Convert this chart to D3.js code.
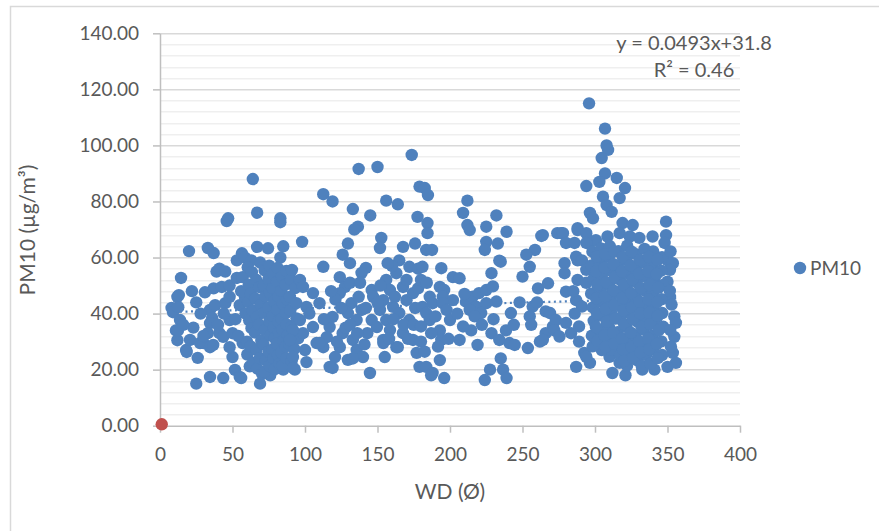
<!DOCTYPE html>
<html>
<head>
<meta charset="utf-8">
<script src="https://cdn.jsdelivr.net/npm/d3@7"></script>
<style>
  body { margin: 0; background: #fff; }
  text { font-family: Lato, "Open Sans", sans-serif; fill: #595959; }
</style>
</head>
<body>
<script>
// Data: [WD, PM10] pairs, grouped by wind direction band
// =================================
var band0to60 = [
  [8,42],[12,46],[14.5,52.7],[11,34],[12,30.5],[18,27],[20,62.3],[25,15],[9,40.5],[12.6,42.3],
  [13,46.6],[13.8,37.7],[12.4,34],[23,35],[25,44],[20.7,30.6],[18.4,26.3],[26,24.2],[27.6,29.5],[31,47.6],
  [33,63.4],[37,61.6],[37,49],[39,55],[42.6,49.5],[34.5,41.3],[38,43],[36,38.4],[34.5,36.6],[33,33],
  [30,29.5],[34.5,28],[36.7,28.8],[41,33],[43.6,31.7],[45,43.7],[48,46],[47,74],[46,73],[48,50],
  [48,37.7],[53,52.7],[53,59],[56.5,61.5],[58.6,60],[55,43],[58.6,45.9],[57,29.5],[50,24.5],[51.7,19.9],
  [55,17.4],[56,17],[34.5,17.4],[43.6,17],[30,32],[40,36],[44,40],[50,33],[52,38],[56,48],
  [57,53],[41,56],[28,40],[22,48],[16,36],[48,28],[54,32],[59,40],[45,55]
];

var band60to90 = [
  [64,88],[67,76],[83,74],[83,72.6],[67,63.8],[74.5,63.3],[85,64],[63,59],[83,60],[69,15],[76,18],[85,20],[60,30],
  [60.5,56.5],[61.2,50.3],[60.8,44.1],[61.5,37.6],[60.2,25.4],[61.9,21.2],
  [63.4,54.8],[62.7,47.2],[63.9,41],[63.1,34.8],[62.5,28.3],[64.2,22.5],
  [66.3,52.1],[65.8,45.3],[66.9,38.8],[65.5,33.2],[66.6,27.1],[67.2,20.4],
  [69.1,58.2],[68.7,49.4],[69.6,43.2],[68.3,36.1],[69.9,30.3],[68.9,24.1],[70.4,18.5],
  [72.2,55.4],[71.6,50.1],[72.8,46.2],[71.9,40.3],[72.5,34.2],[71.3,29.1],[73,23.3],[72.1,19.2],
  [75.3,57.1],[74.8,52.3],[75.9,47.4],[74.6,42.1],[75.5,37.3],[76.1,32.2],[74.9,26.4],[75.7,21.3],
  [78.2,54.2],[77.6,49.1],[78.8,44.3],[77.9,39.2],[78.5,35.1],[79.1,31.3],[77.7,27.2],[78.4,24.1],[79.3,20.2],
  [81.1,56.3],[80.7,51.2],[81.8,46.1],[80.9,41.4],[81.5,37.2],[82.1,33.1],[80.6,29.3],[81.3,25.2],[82.4,22.1],
  [84.2,53.1],[83.6,48.2],[84.8,43.4],[83.9,38.1],[84.5,34.3],[85.1,30.2],[83.7,26.1],[84.4,21.4],
  [87.1,55.2],[86.6,50.3],[87.7,45.1],[86.9,40.2],[87.4,36.1],[88.1,32.3],[86.7,28.2],[87.3,24.1],
  [90.3,52.1],[89.9,41.2],[90.5,35.3],[89.2,29.1],[90.8,23.2],
  [93.2,49.1],[94.1,38.3],[92.6,27.4],[95.3,31.2]
];

var band90to180 = [
  [91,55.6],[96.5,52],[98.6,49.5],[105.5,47.3],[89.6,46],[94,43.7],[101,42.4],[110,43.7],[103,40],[96.5,37.7],
  [105.5,35.2],[98.6,33],[91.7,34.1],[89.6,30.6],[108,29.5],[112.6,28],[100,27],[91.7,24.5],[101,22.7],[93,20],
  [92,20.6],[119,20.6],[98,65.6],[112.6,82.6],[119,80],[133,77.3],[145,75],[137,91.6],[150,92.3],[173.6,96.6],
  [156,80.3],[164,79],[136.5,71],[134,70],[129.6,65],[126,61],[131,58],[152.6,67],[151.7,63.4],[167.6,63.8],
  [175.9,65],[177.6,74.5],[112.6,56.7],[142,56.3],[139,54.5],[124,53],[127.6,49.5],[131,51],[165,59],[172,56.7],
  [124,47.3],[132,43.7],[139,41.3],[129.6,40.2],[135.6,37.7],[119,38.8],[117,35.2],[126,33],[115,31.6],[133,30.6],
  [124,28],[135.6,27],[120.7,24.5],[129.6,23.5],[140,24.5],[117,21],[144.8,18.8],[146,37.7],[143,33],[146,48.4],
  [147,46],[156,52],[163,54.4],[158.6,48.4],[167.6,49.5],[154,44.8],[160.7,42.4],[170,44.8],[174.5,47.3],[165,40.2],
  [156,37.7],[172,37.7],[158.6,34.1],[167.6,33],[154,30.6],[163,28],[155,24.5],[174.5,30.6],[177,26],[179,21],
  [149.6,35.2],[151.7,41.3],[164,28],[154,29.5],[110,29.5],[133,24],[179,85.3],
  [160,57],[170,52],[178,49],[162,46],[176,42],[168,36],[152,50],[158,31],[171,31],[175,36],
  [161,38],[150,44],[178,56],[157,58],[121,45],[128,35],[137,46],[142,42],[136,33],[122,30],
  [141,29],[131,36],[125,42],[113,38],[118,48],[138,51]
];

var band180to280 = [
  [182.6,84.8],[184.8,82.3],[212,80.3],[209,75.9],[212,71.6],[213.6,69.8],[232,75],[225,71],[225,65.6],[224,62.7],
  [233,65],[239,69.2],[234,58.9],[264,68],[258.6,62.7],[252.6,61],[255,56.7],[250,53.2],[274,68.7],[260.7,49],
  [267.6,50.8],[184.5,72.3],[184.5,68.7],[183.6,62.7],[187.6,62.7],[181,56.7],[180,52],[184,51],[194,56.2],[202,53],
  [206.6,52.6],[228.6,54.4],[193,49.5],[196,48.4],[195,46],[186,46],[188,43.7],[181,42.4],[202,44.8],[211,44.3],
  [215.6,46],[220,47.3],[225,48.4],[229.6,49.7],[232,44.3],[218,42.5],[225,43.7],[213.6,41.3],[221.5,40.2],[217,39],
  [195,43.7],[197.6,41.3],[200,37.7],[183.6,40.2],[186,37.7],[242,40.2],[257,42.5],[255,39],[256,36],[266,40.8],
  [180,35.4],[180,30],[182.6,26.4],[183.6,21],[188,18.8],[193,34],[194,30.6],[191.7,28.2],[193,23.4],[196,17],
  [206.6,30.6],[214.6,34],[219,28.8],[228.6,33],[234,30.6],[238.6,34],[241,29.5],[244.6,28.8],[235,24],[236.6,20],
  [239,17],[224,16.3],[227.6,20],[253.7,27.7],[262,30],[266,33],[271,35.4],[269,40.2],[273,37.7],[209,35.4],
  [187,18],[235,58.5],[263,67.7],[264,30.6],[272,34],[275.5,31.8],[187,33],[199,31],[205,40],[230,38],
  [222,36],[210,47],[190,39],[248,44],[244,36],[260,44],[276.6,68.7]
];

var band280to360 = [
  [295.9,115],[306.9,106],[308,100],[309,98.4],[304.6,95.5],[294,85.5],[306.9,90],[303,87],[315,88.4],[320.7,84.8],
  [317,81.2],[305.5,81.7],[308,78.7],[311.5,76.3],[296.5,75.9],[298.6,74],[349,72.8],[288,70.5],[277.9,68.7],[280,65.2],
  [285.9,65.2],[319,72.3],[326,71.6],[317,68.7],[324,67.5],[330.6,67],[339.7,67.5],[349,68],[348,65.2],[296.5,65.6],
  [300.6,66.2],[308.6,67.5],[350,59],[353.7,58],[351.7,55.6],[279,58],[279,54.4],[288,59],[280,47.8],[350,51.4],
  [351.7,46],[354.7,39],[355.8,36.7],[354.7,31.7],[353.7,26],[355.8,22.4],[350,21],[341,20],[287,21],[296.5,22.4],
  [292.6,26],[312,18.8],[321,18],[332.6,20],[317,22.4],[326,24.6],[310,24.6],[304.6,27],[288,69.8],[294,68.7],
  [294,65.2],[287,60.3],[291,59],[294,55.6],[288,52],[294,51],[287,44.8],[291,42.5],[280,36.7],[283.5,33],
  [289,35.4],[294,24.6],[286,40],[289,30],[285,48],
  [298.2,62.1],[297.6,57.2],[298.9,52.3],[297.3,47.1],[298.5,42.2],[299.1,37.4],[297.8,32.1],[298.4,28.3],
  [304.1,63.2],[303.5,58.1],[304.7,53.4],[303.8,48.2],[304.4,44.1],[305.1,39.3],[303.6,34.2],[304.3,30.1],
  [310.2,64.1],[309.6,60.2],[310.8,55.3],[309.9,50.1],[310.5,45.2],[311.1,40.4],[309.7,35.1],[310.4,31.2],[311.3,27.1],
  [316.1,62.3],[315.7,57.1],[316.8,52.2],[315.9,47.3],[316.5,43.1],[317.2,38.2],[315.6,33.4],[316.4,29.1],[317.3,25.2],
  [322.2,64.2],[321.6,59.1],[322.8,54.3],[321.9,49.2],[322.5,44.1],[323.1,40.3],[321.7,35.2],[322.4,30.1],[323.3,26.2],[322.1,21.4],
  [328.1,61.2],[327.6,56.3],[328.7,51.1],[327.9,46.2],[328.4,42.3],[329.1,37.1],[327.7,32.2],[328.3,28.1],[329.2,23.3],
  [334.2,63.1],[333.6,58.2],[334.8,53.1],[333.9,48.3],[334.5,43.2],[335.1,38.1],[333.7,34.2],[334.4,29.1],[335.3,25.2],
  [340.1,62.2],[339.6,57.1],[340.7,52.3],[339.9,47.2],[340.4,42.1],[341.1,37.3],[339.7,32.1],[340.3,27.2],
  [346.2,60.1],[345.7,55.3],[346.8,50.2],[345.9,45.1],[346.4,40.2],[347.1,35.3],[345.8,30.1],[346.3,25.2],
  [301.2,60.3],[300.7,55.1],[301.6,50.2],[300.9,45.4],[301.4,40.1],[300.6,35.2],[301.8,30.3],
  [307.1,61.2],[306.6,56.4],[307.8,51.1],[306.9,46.2],[307.4,41.6],[308.1,37.1],[306.7,32.2],[307.3,28.1],
  [313.2,62.1],[312.7,57.6],[313.8,53.1],[312.9,48.2],[313.5,43.1],[314.1,38.2],[312.6,33.1],[313.4,29.2],
  [319.1,60.2],[318.6,55.1],[319.7,50.3],[318.9,45.6],[319.4,41.1],[320.1,36.2],[318.7,31.1],[319.3,27.2],[320.2,23.1],
  [325.2,62.1],[324.6,57.2],[325.8,52.1],[324.9,47.3],[325.5,42.2],[326.1,38.1],[324.7,33.2],[325.4,28.1],[326.3,24.2],
  [331.1,59.1],[330.6,54.2],[331.7,49.1],[330.9,44.2],[331.4,40.1],[332.1,35.2],[330.7,30.1],[331.3,26.2],[332.2,21.3],
  [337.2,60.2],[336.6,55.1],[337.8,50.2],[336.9,45.1],[337.5,40.3],[338.1,36.2],[336.7,31.1],[337.4,27.2],[338.3,22.1],
  [343.1,59.2],[342.6,54.1],[343.7,49.2],[342.9,44.1],[343.4,39.2],[344.1,34.1],[342.7,29.2],[343.3,24.1],
  [352.1,62.2],[351.6,48.1],[352.8,43.2],[351.9,34.1],[352.4,28.2]
];

// Second series: one red point near the origin
var redPoints = [[1.2, 0.5]];

// Trend line end points
var trendLine = [[10, 40.6], [356, 45.4]];

var yTicks = [0, 20, 40, 60, 80, 100, 120, 140];
var xTicks = [0, 50, 100, 150, 200, 250, 300, 350, 400];
var equationText = "y = 0.0493x+31.8";
var r2Text = "R² = 0.46";
var seriesName = "PM10";

var pm10Data = band0to60.concat(band60to90, band90to180, band180to280, band280to360);

// Step 1: Set up the chart
// =================================
var svgWidth = 879;
var svgHeight = 531;

var margin = { top: 33.3, left: 160 };
var width = 580;
var height = 392.4;
var dotRadius = 6.2;

var svg = d3.select("body")
  .append("svg")
  .attr("width", svgWidth)
  .attr("height", svgHeight);

// chart frame (cropped at right and bottom)
svg.append("path")
  .attr("d", "M10.5,531 V6.5 H879")
  .attr("fill", "none")
  .attr("stroke", "#d9d9d9")
  .attr("stroke-width", 1.5);

var chartGroup = svg.append("g")
  .attr("transform", `translate(${margin.left}, ${margin.top})`);

// Step 2: Scales
// =================================
var xScale = d3.scaleLinear().domain([0, 400]).range([0, width]);
var yScale = d3.scaleLinear().domain([0, 140]).range([height, 0]);

// Step 3: Gridlines (minor every 4, major every 20)
// =================================
var minorTicks = d3.range(4, 140, 4).filter(d => d % 20 !== 0);

chartGroup.append("g")
  .selectAll("line")
  .data(minorTicks)
  .enter()
  .append("line")
  .attr("x1", 0)
  .attr("x2", width)
  .attr("y1", d => Math.round(yScale(d)) + 0.5)
  .attr("y2", d => Math.round(yScale(d)) + 0.5)
  .attr("stroke", "#efefef")
  .attr("stroke-width", 1.5);

chartGroup.append("g")
  .selectAll("line")
  .data(yTicks.filter(d => d > 0))
  .enter()
  .append("line")
  .attr("x1", 0)
  .attr("x2", width)
  .attr("y1", d => Math.round(yScale(d)) + 0.5)
  .attr("y2", d => Math.round(yScale(d)) + 0.5)
  .attr("stroke", "#d9d9d9")
  .attr("stroke-width", 1.5);

// Step 4: Axes
// =================================
var leftAxis = d3.axisLeft(yScale)
  .tickValues(yTicks)
  .tickFormat(d3.format(".2f"))
  .tickSize(7)
  .tickSizeOuter(0)
  .tickPadding(14);

var bottomAxis = d3.axisBottom(xScale)
  .tickValues(xTicks)
  .tickSize(7)
  .tickSizeOuter(0)
  .tickPadding(15);

var yAxisG = chartGroup.append("g").call(leftAxis);
var xAxisG = chartGroup.append("g")
  .attr("transform", `translate(0, ${height})`)
  .call(bottomAxis);

[yAxisG, xAxisG].forEach(function(g) {
  g.selectAll("path, line").attr("stroke", "#bfbfbf").attr("stroke-width", 1.5);
  g.selectAll("text")
    .style("font-size", "19px")
    .style("font-family", "Lato, 'Open Sans', sans-serif")
    .attr("fill", "#595959");
});

// Step 5: Trend line (dotted)
// =================================
var line = d3.line()
  .x(d => xScale(d[0]))
  .y(d => yScale(d[1]));

chartGroup.append("path")
  .attr("d", line(trendLine))
  .attr("fill", "none")
  .attr("stroke", "#4f81bd")
  .attr("stroke-width", 2.2)
  .attr("stroke-dasharray", "2,3.5");

// Step 6: Points
// =================================
chartGroup.append("g")
  .selectAll("circle")
  .data(pm10Data)
  .enter()
  .append("circle")
  .attr("cx", d => xScale(d[0]))
  .attr("cy", d => yScale(d[1]))
  .attr("r", dotRadius)
  .attr("fill", "#4f81bd");

chartGroup.append("g")
  .selectAll("circle")
  .data(redPoints)
  .enter()
  .append("circle")
  .attr("cx", d => xScale(d[0]))
  .attr("cy", d => yScale(d[1]))
  .attr("r", dotRadius)
  .attr("fill", "#c0504d");

// Step 7: Labels, equation, legend
// =================================
svg.append("text")
  .attr("transform", "translate(35, 230) rotate(-90)")
  .attr("text-anchor", "middle")
  .style("font-size", "21px")
  .text("PM10 (µg/m³)");

svg.append("text")
  .attr("x", 450)
  .attr("y", 499)
  .attr("text-anchor", "middle")
  .style("font-size", "21px")
  .text("WD (Ø)");

svg.append("text")
  .attr("x", 694)
  .attr("y", 50)
  .attr("text-anchor", "middle")
  .style("font-size", "20px")
  .text(equationText);

svg.append("text")
  .attr("x", 694)
  .attr("y", 77)
  .attr("text-anchor", "middle")
  .style("font-size", "20px")
  .text(r2Text);

svg.append("circle")
  .attr("cx", 800)
  .attr("cy", 268)
  .attr("r", dotRadius)
  .attr("fill", "#4f81bd");

svg.append("text")
  .attr("x", 810)
  .attr("y", 275)
  .style("font-size", "19px")
  .text(seriesName);
</script>
</body>
</html>
